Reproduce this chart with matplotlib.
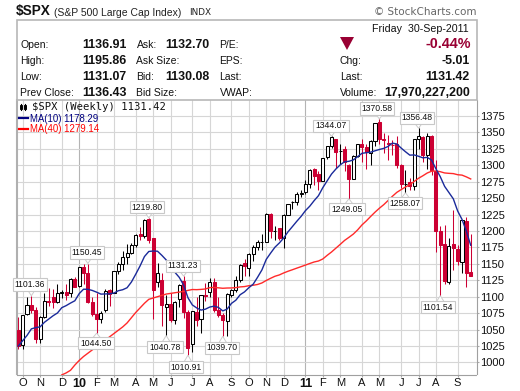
import numpy as np
import matplotlib
matplotlib.use("Agg")
import matplotlib.pyplot as plt
from matplotlib.patches import Rectangle, Polygon

# ---- data (weekly bars) ----
opens = [1049,1026,1073,1088,1080,1036,1069,1094,1099,1092,
         1105,1107,1105,1127,1116,1145,1136,1092,1073,1066,
         1079,1110,1105,1139,1150,1160,1167,1178,1195,1192,
         1218,1189,1122,1125,1085,1089,1064,1096,1124,1077,
         1028,1077,1066,1103,1107,1123,1080,1072,1063,1103,
         1110,1126,1151,1143,1165,1176,1183,1183,1226,1200,
         1204,1189,1225,1244,1244,1257,1260,1271,1294,1286,
         1276,1312,1329,1340,1321,1324,1300,1279,1314,1332,
         1328,1319,1337,1366,1340,1333,1331,1333,1300,1271,
         1274,1268,1340,1343,1315,1344,1291,1200,1180,1123,
         1180,1172,1153,1215,1136.91]
highs = [1069,1071.5,1100,1101.36,1085,1071,1105,1113,1112,1119,
         1110,1119,1129,1130,1145.4,1150,1150.45,1100,1105,1078,
         1112,1112,1139,1153,1169,1180,1181,1194.66,1206,1218,
         1219.8,1189,1152,1136,1103,1105,1093,1120,1131.23,1080,
         1078,1099,1103,1121,1129,1129,1100,1075,1105,1111,
         1131,1149,1157,1167,1178,1186,1196,1227,1227,1207,
         1204,1226,1241,1246,1259,1263,1277,1294,1296,1291,
         1311,1330,1344.07,1340,1333,1330,1302,1315,1333,1340,
         1332,1338,1364,1370.58,1349,1346,1338,1345,1302,1293,
         1280,1340,1356.48,1345,1349,1346,1308,1208,1209,1190,
         1232,1178,1216,1221,1195.86]
lows = [1020,1020,1072,1075,1029,1029,1067,1086,1083,1091,
        1098,1095,1099,1115,1115,1120,1090,1071,1044.5,1060,
        1076,1086,1105,1134,1141,1150,1165,1175,1186,1190,
        1181,1066,1115,1056,1040.78,1062,1058,1085,1067,1010.91,
        1016,1056,1044,1094,1100,1076,1069,1039.7,1040,1100,
        1107,1122,1131,1131,1155,1171,1171,1183,1190,1187,
        1186,1174,1225,1234,1240,1252,1257,1265,1270,1262,
        1276,1310,1327,1296,1302,1292,1249.05,1279,1312,1305,
        1295,1300,1330,1332,1318,1308,1315,1296,1265,1258.07,
        1262,1262,1325,1305,1295,1285,1168,1101.54,1120,1120,
        1140,1148,1136,1114,1131.07]
closes = [1025.21,1071.49,1087.68,1079.60,1036.19,1069.30,1093.48,1091.38,1091.3,1105.98,
          1106.41,1102.47,1126.48,1115.10,1144.98,1136.03,1091.76,1073.87,1066.19,1075.51,
          1109.17,1104.49,1138.70,1149.99,1159.90,1166.59,1178.10,1194.37,1192.13,1217.28,
          1186.69,1110.88,1135.68,1087.69,1089.41,1064.88,1091.60,1117.51,1076.76,1022.58,
          1077.96,1064.88,1102.66,1101.60,1121.64,1079.25,1071.69,1064.59,1104.51,1109.55,
          1125.59,1148.67,1146.24,1165.15,1176.19,1183.08,1183.26,1225.85,1199.21,1199.73,
          1189.40,1224.71,1240.40,1243.91,1256.77,1257.64,1271.50,1293.24,1283.35,1276.34,
          1310.87,1329.15,1343.01,1319.88,1321.15,1304.28,1279.21,1313.80,1332.41,1328.17,
          1319.68,1337.38,1363.61,1340.20,1337.77,1333.27,1331.10,1300.16,1270.98,1271.50,
          1268.45,1339.67,1343.80,1316.14,1345.02,1292.28,1199.38,1178.81,1123.53,1176.80,
          1173.97,1154.23,1216.01,1136.43,1131.42]
ma10 = [1025,1033,1041,1051,1053,1054,1061,1066,1071,1075.2,
        1083.3,1086.4,1090.3,1093.8,1104.7,1111.4,1111.2,1109.5,1106.9,1103.9,
        1104.2,1104.4,1105.6,1109.1,1110.6,1113.6,1122.3,1134.3,1146.9,1161.1,
        1168.8,1169.5,1169.2,1162.9,1155.9,1145.7,1137.1,1129.4,1117.8,1098.4,
        1087.5,1082.9,1079.6,1081.0,1084.2,1085.6,1083.7,1078.4,1081.1,1089.8,
        1094.6,1103.0,1107.3,1113.7,1119.1,1129.5,1140.7,1156.8,1166.3,1175.3,
        1181.7,1189.3,1198.7,1206.6,1214.6,1222.1,1230.9,1237.7,1246.1,1253.7,
        1265.9,1276.3,1286.6,1294.2,1300.6,1305.3,1306.0,1308.1,1313.0,1318.2,
        1319.1,1319.9,1322.0,1324.0,1325.7,1328.6,1333.7,1332.4,1326.2,1320.6,
        1315.4,1315.7,1313.7,1311.3,1312.0,1307.9,1294.7,1282.6,1267.9,1258.4,
        1248.9,1230.4,1217.6,1199.6,1178.29]
ma40 = [np.nan]*10 + [
        981,984,988,996,1003,1009,1014,1019,1024,1029,
        1034,1039,1044,1049,1054,1060,1068,1076,1083,1090,
        1096,1098,1100,1102,1104,1105,1106,1107,1108,1109.6,
        1110.9,1110.7,1111.1,1111.7,1113.8,1114.1,1113.5,1112.8,1113.2,1113.3,
        1113.8,1114.9,1115.4,1116.7,1117.4,1118.6,1120.9,1124.7,1128.0,1131.1,
        1133.1,1136.1,1138.7,1141.0,1143.4,1145.7,1148.1,1150.5,1152.8,1154.3,
        1157.4,1162.9,1168.0,1173.8,1179.6,1185.6,1190.3,1195.2,1201.6,1209.2,
        1215.3,1222.1,1228.6,1234.6,1240.0,1246.3,1252.8,1258.7,1262.9,1266.9,
        1270.5,1275.3,1280.2,1284.0,1288.2,1290.9,1291.3,1290.2,1288.3,1287.7,
        1287.3,1285.6,1285.0,1282.3,1279.14]
month_idx = [1,5,10,14,18,22,27,31,35,40,44,49,53,57,61,66,70,74,79,83,88,92,96,101]
month_lab = ['O','N','D','10','F','M','A','M','J','J','A','S','O','N','D','11','F','M','A','M','J','J','A','S']
price_ticks = [1000,1025,1050,1075,1100,1125,1150,1175,1200,1225,1250,1275,1300,1325,1350,1375]
callout_idx = [3,16,18,30,38,34,39,47,72,76,83,92,89,97]
callout_val = [1101.36,1150.45,1044.50,1219.80,1131.23,1040.78,1010.91,1039.70,1344.07,1249.05,1370.58,1356.48,1258.07,1101.54]
callout_px = [(30,284.5),(87,252.5),(96,343),(147,207),(183,266),(165,347),(186,367),(222,348),(331,126),(347,209),(377,108.5),(417,118),(405,203),(438,307)]

# ---- figure ----
W, H = 520, 391
fig = plt.figure(figsize=(W/100, H/100), dpi=100, facecolor='white')
plt.rcParams['font.family'] = ['Liberation Sans', 'DejaVu Sans']

L_, R_, T_, B_ = 16.5, 476.5, 100, 374.5
ax = fig.add_axes([L_/W, 1-B_/H, (R_-L_)/W, (B_-T_)/H])
ax.set_xlim(-0.414, 105.33)
ax.set_ylim(981.6, 1399.3)

GRID = '#d6d6d6'
for i, lab in zip(month_idx, month_lab):
    yr = lab in ('10', '11')
    ax.axvline(i, color='#b4b4b4' if yr else GRID, lw=0.8, zorder=0)
for p in price_ticks:
    ax.axhline(p, color=GRID, lw=0.8, zorder=0)

RED = '#cc0033'
x = np.arange(len(closes))
prev = [closes[0] + 1] + closes[:-1]
cols = ['black' if c >= q else RED for c, q in zip(closes, prev)]
ax.vlines(x, lows, highs, colors=cols, lw=0.75, zorder=2)
bottoms = [min(o, c) for o, c in zip(opens, closes)]
heights = [abs(o - c) for o, c in zip(opens, closes)]
faces = ['white' if c > o else e for o, c, e in zip(opens, closes, cols)]
ax.bar(x, heights, bottom=bottoms, width=0.7, color=faces, edgecolor=cols, lw=0.75, zorder=3)

ax.plot(x, ma40, color='#ff2a2a', lw=1.0, zorder=4)
ax.plot(x, ma10, color='#1a2a9a', lw=1.0, zorder=5)

ax.set_yticks(price_ticks)
ax.set_yticklabels([str(p) for p in price_ticks])
ax.yaxis.tick_right()
ax.tick_params(axis='y', length=1.5, width=0.8, color='#aaaaaa', labelsize=8, pad=1.2, labelcolor='#111111')
ax.set_xticks(month_idx)
ax.set_xticklabels(month_lab)
ax.tick_params(axis='x', length=1.5, width=0.8, color='#aaaaaa', labelsize=8, pad=1.2, labelcolor='#111111')
for t, lab in zip(ax.get_xticklabels(), month_lab):
    if lab in ('10', '11'):
        t.set_fontweight('bold')
        t.set_fontsize(9)
ax.spines['top'].set_visible(False)
ax.spines['left'].set_color('#b0b0b0'); ax.spines['left'].set_linewidth(1.5)
ax.spines['bottom'].set_color('#a0a0a0'); ax.spines['bottom'].set_linestyle((0, (1, 1)))
ax.spines['right'].set_color('#a0a0a0'); ax.spines['right'].set_linestyle((0, (1, 1)))

# overlay in pixel coordinates for the header and legend
ov = fig.add_axes([0, 0, 1, 1], zorder=10)
ov.set_xlim(0, W); ov.set_ylim(H, 0); ov.axis('off'); ov.patch.set_alpha(0)

# price call-outs: box plus a small pointer to the bar's high or low
to_ov = ax.transData + ov.transData.inverted()
for i, v, (cx, cy) in zip(callout_idx, callout_val, callout_px):
    tip = to_ov.transform((i, v))
    edge = cy + 5 if tip[1] > cy else cy - 5
    ov.add_patch(Polygon([(tip[0] - 4, edge), (tip[0] + 4, edge), tip], closed=True,
                         fc='white', ec='#cccccc', lw=0.7, zorder=6))
    ov.text(cx, cy, f'{v:.2f}', ha='center', va='center', fontsize=6.2, color='#111111', zorder=7,
            bbox=dict(boxstyle='square,pad=0.22', fc='white', ec='#c8c8c8', lw=0.8))

ov.add_patch(Rectangle((16.5, 19.5), 460, 80.5, fc='none', ec='#b8b8b8', lw=1.2))
ov.text(16, 15.5, '$SPX', fontsize=9.8, fontweight='bold', color='#111111', va='baseline')
ov.text(53.5, 15.5, '(S&P 500 Large Cap Index)', fontsize=7.5, color='#222222', va='baseline')
ov.text(189, 15, 'INDX', fontsize=6.4, color='#222222', va='baseline', family='DejaVu Sans')
ov.text(476, 14.8, '\u00a9 StockCharts.com', fontsize=7.5, color='#666666', ha='right', va='baseline', family='DejaVu Sans')

rows = [48, 64, 80, 96]
LBL = dict(fontsize=7.5, color='#111111', va='baseline')
VAL = dict(fontsize=8.9, color='#111111', fontweight='bold', va='baseline', ha='right')
for y, a, b in zip(rows, ['Open:', 'High:', 'Low:', 'Prev Close:'], ['1136.91', '1195.86', '1131.07', '1136.43']):
    ov.text(20.5, y, a, **LBL)
    ov.text(126.5, y, b, **VAL)
for y, a, b in zip(rows, ['Ask:', 'Ask Size:', 'Bid:', 'Bid Size:'], ['1132.70', '', '1130.08', '']):
    ov.text(136.5, y, a, **LBL)
    ov.text(209.5, y, b, **VAL)
for y, a in zip(rows, ['P/E:', 'EPS:', 'Last:', 'VWAP:']):
    ov.text(219.5, y, a, **LBL)
ov.text(469, 32, 'Friday  30-Sep-2011', fontsize=7.7, color='#111111', ha='right', va='baseline')
ov.add_patch(Polygon([(340, 37), (354, 37), (347, 50)], closed=True, fc='#990033', ec='none'))
ov.text(470.5, 48, '-0.44%', fontsize=10.3, fontweight='bold', color='#990033', ha='right', va='baseline')
for y, a, b in zip(rows[1:], ['Chg:', 'Last:', 'Volume:'], ['-5.01', '1131.42', '17,970,227,200']):
    ov.text(340, y, a, **LBL)
    ov.text(470, y, b, **VAL)

ov.text(32, 110.5, '$SPX (Weekly) 1131.42', fontsize=7.6, color='#111111', va='baseline', family='DejaVu Sans Mono')
ov.plot([20.5, 20.5], [104, 110], color='black', lw=0.8)
ov.add_patch(Rectangle((19.5, 105), 2, 4, fc='white', ec='black', lw=0.7))
ov.plot([25, 25], [104, 110], color='black', lw=0.8)
ov.add_patch(Rectangle((24, 105), 2, 4, fc='black', ec='black', lw=0.7))
ov.plot([19, 28], [118, 118], color='#000080', lw=1.6)
ov.text(29.5, 121.5, 'MA(10) 1178.29', fontsize=6.9, color='#000080', va='baseline')
ov.plot([19, 28], [128.5, 128.5], color='#ff0000', lw=1.6)
ov.text(29.5, 132, 'MA(40) 1279.14', fontsize=6.9, color='#ff0000', va='baseline')

fig.savefig('out.png', dpi=100, facecolor='white')
